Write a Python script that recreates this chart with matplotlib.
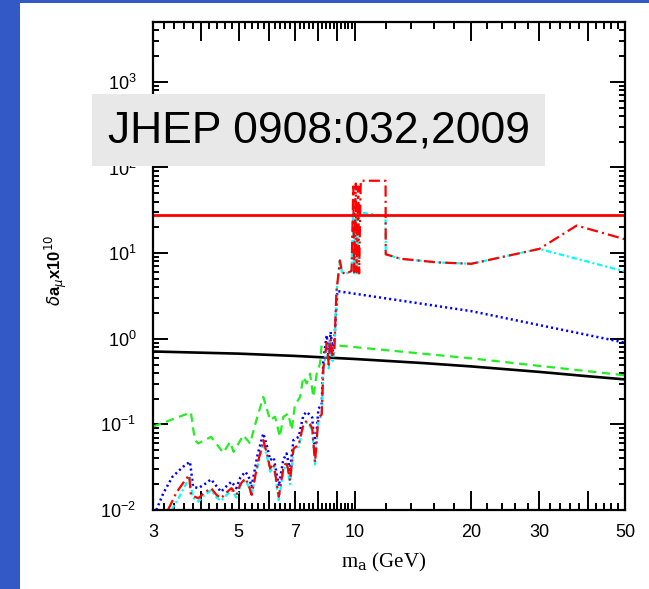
import matplotlib
matplotlib.use('Agg')
import matplotlib.pyplot as plt
from matplotlib.patches import Rectangle
from matplotlib.ticker import FixedLocator, FixedFormatter, NullFormatter, LogLocator

plt.rcParams['font.family'] = ['Liberation Sans', 'DejaVu Sans']
plt.rcParams['lines.scale_dashes'] = False

# axion mass (GeV) and delta a_mu x 10^10 for each curve
m_black = [3.0, 5.0, 7.0, 10.0, 15.0, 20.0, 30.0, 40.0, 50.0]
amu_black = [0.71, 0.67, 0.63, 0.58, 0.52, 0.475, 0.41, 0.365, 0.335]

m_green = [3.0, 3.76, 3.85, 3.93, 4.24, 4.56, 4.75, 4.85, 5.14, 5.35, 5.55, 5.79,
           6.03, 6.21, 6.39, 6.52, 6.72, 6.86, 6.99, 7.21, 7.35, 7.5, 7.65, 7.8,
           7.96, 8.12, 8.2, 20.0, 50.0]
amu_green = [0.094, 0.138, 0.0655, 0.0598, 0.0715, 0.0466, 0.0625, 0.0478, 0.0748,
             0.0598, 0.11, 0.209, 0.112, 0.123, 0.0715, 0.122, 0.134, 0.0856,
             0.1675, 0.209, 0.358, 0.30, 0.392, 0.209, 0.392, 0.513, 0.87, 0.59,
             0.374]

m_blue = [3.06, 3.19, 3.37, 3.59, 3.74, 3.81, 3.93, 4.08, 4.24, 4.38, 4.5, 4.65,
          4.79, 4.93, 5.05, 5.2, 5.3, 5.4, 5.6, 5.79, 5.92, 6.03, 6.16, 6.35, 6.52,
          6.65, 6.79, 6.93, 7.15, 7.35, 7.5, 7.65, 7.75, 7.88, 8.04, 8.2, 8.28,
          8.45, 8.55, 8.65, 8.75, 8.85, 9.0, 20.0, 50.0]
amu_blue = [0.01, 0.0157, 0.0245, 0.032, 0.0365, 0.0187, 0.018, 0.02, 0.0228,
            0.019, 0.0163, 0.019, 0.0214, 0.018, 0.024, 0.0279, 0.025, 0.0187,
            0.045, 0.0783, 0.055, 0.0383, 0.041, 0.019, 0.0383, 0.0458, 0.0293,
            0.0655, 0.0715, 0.128, 0.14, 0.128, 0.12, 0.0458, 0.153, 0.1675, 0.56,
            1.1, 0.6, 1.2, 0.7, 1.0, 3.6, 2.1, 0.9]

m_red = [3.28, 3.45, 3.6, 3.72, 3.76, 3.93, 4.08, 4.24, 4.38, 4.5, 4.65, 4.79,
         4.93, 5.05, 5.2, 5.3, 5.4, 5.6, 5.79, 5.92, 6.03, 6.16, 6.35, 6.52, 6.65,
         6.79, 6.93, 7.15, 7.35, 7.5, 7.65, 7.75, 7.88, 8.04, 8.2, 8.28, 8.45, 8.55,
         8.65, 8.75, 8.85, 8.95, 9.14, 9.25, 9.45, 9.8, 9.9, 9.95, 10.05, 10.1,
         10.2, 10.25, 10.35, 12.0, 12.01, 13.1, 16.3, 20.0, 30.0, 37.5, 50.0]
amu_red = [0.01, 0.016, 0.021, 0.0256, 0.015, 0.0137, 0.016, 0.018, 0.015, 0.0137,
           0.016, 0.018, 0.015, 0.02, 0.0234, 0.02, 0.015, 0.035, 0.0655, 0.045,
           0.0306, 0.0349, 0.0143, 0.03, 0.037, 0.022, 0.052, 0.058, 0.1, 0.11,
           0.1, 0.09, 0.036, 0.12, 0.13, 0.45, 0.9, 0.5, 1.0, 0.6, 0.8, 3.5, 8.2,
           6.0, 5.7, 6.2, 60.0, 6.0, 65.0, 6.0, 60.0, 5.8, 70.0, 70.0, 9.7, 8.6,
           7.8, 7.5, 11.2, 21.0, 14.5]

m_cyan = [3.35, 3.5, 3.65, 3.74, 3.8, 3.93, 4.08, 4.24, 4.38, 4.5, 4.65, 4.79,
          4.93, 5.05, 5.2, 5.3, 5.4, 5.6, 5.79, 5.92, 6.03, 6.16, 6.35, 6.52, 6.65,
          6.79, 6.93, 7.15, 7.35, 7.5, 7.65, 7.75, 7.88, 8.04, 8.2, 8.28, 8.45,
          8.55, 8.65, 8.75, 8.85, 8.95, 9.14, 9.25, 9.45, 9.8, 9.88, 9.95, 10.05,
          10.12, 10.2, 12.0, 12.01, 13.1, 16.3, 20.0, 30.0, 50.0]
amu_cyan = [0.01, 0.014, 0.02, 0.025, 0.014, 0.0125, 0.015, 0.017, 0.014, 0.0128,
            0.015, 0.017, 0.014, 0.019, 0.022, 0.019, 0.015, 0.033, 0.06, 0.042,
            0.028, 0.032, 0.013, 0.028, 0.035, 0.02, 0.05, 0.055, 0.095, 0.105,
            0.095, 0.085, 0.034, 0.115, 0.125, 0.42, 0.85, 0.45, 0.95, 0.55, 0.75,
            3.3, 8.2, 6.0, 5.7, 6.2, 30.0, 5.8, 28.0, 5.8, 30.0, 27.0, 9.7, 8.6,
            7.8, 7.5, 11.2, 6.1]

amu_exp = 27.5  # horizontal limit line

x_major = [3, 4, 5, 6, 7, 8, 9, 10, 20, 30, 40, 50]
x_labels = ['3', '', '5', '', '7', '', '', '10', '20', '30', '', '50']
x_minor = [3 + 0.2 * i for i in range(1, 35) if i % 5 != 0] + \
          [10 + 2 * i for i in range(1, 20) if i % 5 != 0]

fig = plt.figure(figsize=(6.49, 5.89), dpi=100)
fig.patch.set_facecolor('white')

ax = fig.add_axes([153 / 649, 1 - 510 / 589, 472 / 649, 488 / 589])
ax.set_xscale('log')
ax.set_yscale('log')
ax.set_xlim(3, 50)
ax.set_ylim(1e-2, 5e3)

ax.plot(m_green, amu_green, color='#22ee22', lw=1.6, dashes=(6, 4))
ax.plot(m_black, amu_black, color='black', lw=1.9)
ax.plot(m_blue, amu_blue, color='#0000ff', lw=1.8, dashes=(1.5, 2.2))
ax.plot(m_cyan, amu_cyan, color='#00ffff', lw=1.6, dashes=(4, 2, 1.5, 2))
ax.plot(m_red, amu_red, color='#ff0000', lw=1.6, dashes=(8, 3, 1.5, 3))
ax.axhline(amu_exp, color='#ff0000', lw=2)

for s in ax.spines.values():
    s.set_linewidth(1.6)

ax.xaxis.set_major_locator(FixedLocator(x_major))
ax.xaxis.set_major_formatter(FixedFormatter(x_labels))
ax.xaxis.set_minor_locator(FixedLocator(x_minor))
ax.xaxis.set_minor_formatter(NullFormatter())
ax.yaxis.set_major_locator(LogLocator(base=10, numticks=20))
ax.yaxis.set_minor_locator(LogLocator(base=10, subs=range(2, 10), numticks=20))
ax.yaxis.set_minor_formatter(NullFormatter())

ax.tick_params(which='both', direction='in', top=True, right=True, width=1.4,
               labelsize=13, pad=10)
ax.tick_params(axis='x', which='major', length=14)
ax.tick_params(axis='x', which='minor', length=5)
ax.tick_params(axis='y', which='major', length=11, pad=12)
ax.tick_params(axis='y', which='minor', length=4.5)

fig.text(384 / 649, 1 - 562 / 589, r'm$_{\rm a}$ (GeV)', family='Liberation Serif',
         math_fontfamily='dejavuserif', fontsize=15, ha='center', va='center')
fig.text(56 / 649, 1 - 270 / 589, r'$\delta$a$_\mu$x10$^{10}$', rotation=90,
         fontsize=12, fontweight='bold', ha='center', va='center')

# blue frame on the left and top
fig.add_artist(Rectangle((0, 0), 20 / 649, 1, transform=fig.transFigure,
                         facecolor='#3359c6', edgecolor='none', zorder=6))
fig.add_artist(Rectangle((0, 1 - 3 / 589), 1, 3 / 589, transform=fig.transFigure,
                         facecolor='#3359c6', edgecolor='none', zorder=6))

# journal reference box
fig.add_artist(Rectangle((92 / 649, 1 - 166 / 589), 453 / 649, 72 / 589,
                         transform=fig.transFigure, facecolor='#e8e8e8',
                         edgecolor='none', zorder=6))
fig.text(108 / 649, 1 - 143 / 589, 'JHEP 0908:032,2009', fontsize=32,
         ha='left', va='baseline', color='black', zorder=7)

fig.savefig('out.png', dpi=100)
